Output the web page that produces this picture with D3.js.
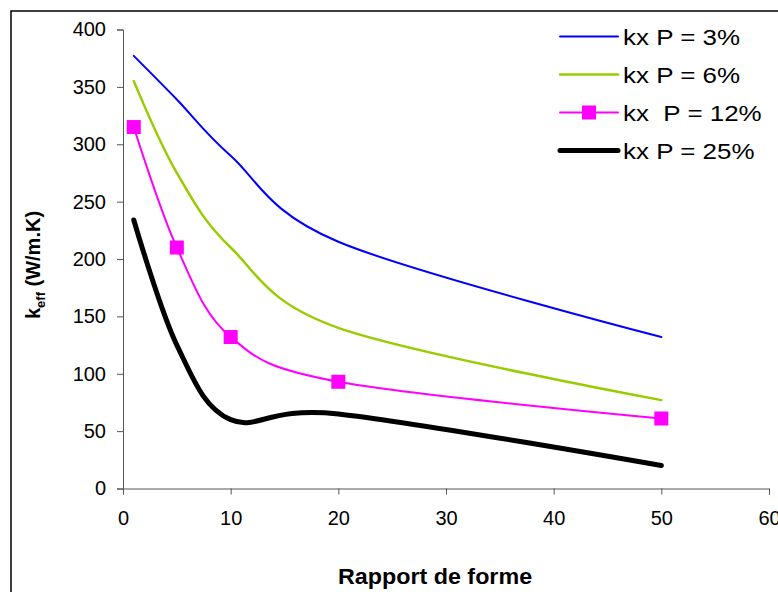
<!DOCTYPE html>
<html>
<head>
<meta charset="utf-8">
<script src="https://cdnjs.cloudflare.com/ajax/libs/d3/7.8.5/d3.min.js"></script>
<style>
  body { margin: 0; background: #fff; }
  svg { display: block; font-family: "Liberation Sans", Arial, sans-serif; }
  .legend text { white-space: pre; }
</style>
</head>
<body>
<svg id="chart"></svg>
<script>
var ratio = [1, 5, 10, 20, 50];
var kx3 = [377, 339, 290, 215, 132];
var kx6 = [355, 275, 210, 140, 77];
var kx12 = [315, 210, 132, 93, 61];
var kx25 = [234, 125, 60, 65, 20];
var seriesNames = ['kx P = 3%', 'kx P = 6%', 'kx  P = 12%', 'kx P = 25%'];
var xTicks = [0, 10, 20, 30, 40, 50, 60];
var yTicks = [0, 50, 100, 150, 200, 250, 300, 350, 400];

var W = 778, H = 592;
var margin = { top: 29.5, right: 9, bottom: 103.5, left: 123 },
    width = W - margin.left - margin.right,
    height = H - margin.top - margin.bottom;

var svg = d3.select('#chart')
    .attr('width', W)
    .attr('height', H);

// outer chart frame (runs off the right and bottom)
svg.append('rect')
    .attr('x', 11).attr('y', 11)
    .attr('width', W + 20).attr('height', H + 20)
    .attr('fill', 'none')
    .attr('stroke', '#000')
    .attr('stroke-width', 1.5);

var g = svg.append('g')
    .attr('transform', 'translate(' + margin.left + ',' + margin.top + ')');

var x = d3.scaleLinear().domain([0, 60]).range([0, width]);
var y = d3.scaleLinear().domain([0, 400]).range([height, 0]);

var xAxis = d3.axisBottom(x).tickValues(xTicks).tickSize(6).tickPadding(16);
var yAxis = d3.axisLeft(y).tickValues(yTicks).tickSize(6).tickPadding(11);

function styleAxis(a) {
    a.selectAll('text').style('font-size', '20px').attr('fill', '#000');
    a.selectAll('line, path').attr('stroke', '#555');
}

g.append('g')
    .attr('transform', 'translate(0,' + height + ')')
    .call(xAxis)
    .call(styleAxis);

g.append('g')
    .call(yAxis)
    .call(styleAxis);

var series = [
    { name: seriesNames[0], values: kx3, color: '#0000FF', width: 2, marker: false },
    { name: seriesNames[1], values: kx6, color: '#99CC00', width: 2.5, marker: false },
    { name: seriesNames[2], values: kx12, color: '#FF00FF', width: 2, marker: true },
    { name: seriesNames[3], values: kx25, color: '#000000', width: 5, marker: false }
];

// Excel-like smoothed lines
var line = d3.line()
    .x(function (d) { return x(d[0]); })
    .y(function (d) { return y(d[1]); })
    .curve(d3.curveCardinal.tension(0));

series.forEach(function (s) {
    var pts = ratio.map(function (r, i) { return [r, s.values[i]]; });
    g.append('path')
        .datum(pts)
        .attr('d', line)
        .attr('fill', 'none')
        .attr('stroke', s.color)
        .attr('stroke-width', s.width)
        .attr('stroke-linecap', 'round')
        .attr('stroke-linejoin', 'round');
    if (s.marker) {
        g.selectAll(null)
            .data(pts)
            .enter().append('rect')
            .attr('x', function (d) { return x(d[0]) - 7; })
            .attr('y', function (d) { return y(d[1]) - 7; })
            .attr('width', 14)
            .attr('height', 14)
            .attr('fill', s.color);
    }
});

// legend
var legend = svg.append('g')
    .attr('class', 'legend')
    .selectAll('g')
    .data(series)
    .enter().append('g')
    .attr('transform', function (d, i) { return 'translate(560,' + (36.5 + i * 38) + ')'; });

legend.append('line')
    .attr('x1', 0).attr('x2', 58)
    .attr('stroke', function (d) { return d.color; })
    .attr('stroke-width', function (d) { return d.width; })
    .attr('stroke-linecap', 'round');

legend.filter(function (d) { return d.marker; })
    .append('rect')
    .attr('x', 22).attr('y', -7)
    .attr('width', 14).attr('height', 14)
    .attr('fill', function (d) { return d.color; });

legend.append('text')
    .attr('transform', 'translate(63,8) scale(1.18,1)')
    .style('font-size', '22px')
    .text(function (d) { return d.name; });

// axis titles
svg.append('text')
    .attr('transform', 'translate(435,584) scale(1.06,1)')
    .attr('text-anchor', 'middle')
    .style('font-size', '22px')
    .style('font-weight', 'bold')
    .text('Rapport de forme');

var yt = svg.append('text')
    .attr('transform', 'translate(40,265) rotate(-90)')
    .attr('text-anchor', 'middle')
    .style('font-size', '20px')
    .style('font-weight', 'bold');
yt.append('tspan').text('k');
yt.append('tspan').attr('dy', 5).style('font-size', '13px').text('eff');
yt.append('tspan').attr('dy', -5).text(' (W/m.K)');
</script>
</body>
</html>
